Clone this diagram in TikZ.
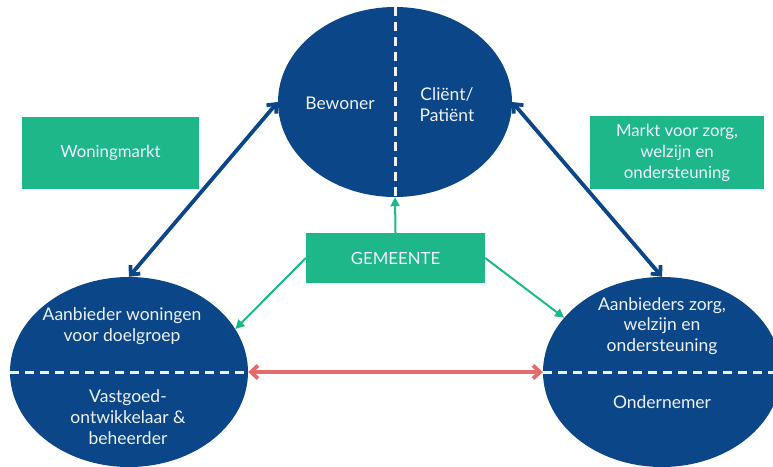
\documentclass[tikz,border=0pt]{standalone}
\usepackage{fontspec}
\setmainfont{Lato}
\usetikzlibrary{shapes.geometric,arrows.meta}
\definecolor{dblue}{HTML}{0A4688}
\definecolor{mgreen}{HTML}{1DB789}
\definecolor{mred}{HTML}{E46A6C}
\definecolor{ltext}{HTML}{EEF2F5}
\begin{document}
\begin{tikzpicture}[x=1pt,y=-1pt,
  blob/.style={ellipse,fill=dblue,draw=none,inner sep=0pt,minimum width=238pt,minimum height=190pt},
  gbox/.style={rectangle,fill=mgreen,draw=none,inner sep=0pt,text=ltext,font=\fontsize{16.8}{21}\selectfont,align=center},
  lbl/.style={text=ltext,font=\fontsize{17.5}{20.8}\selectfont,align=center,inner sep=0pt},
  dline/.style={draw=ltext,line width=3pt,dash pattern=on 9pt off 6pt},
  barrow/.style={draw=dblue,line width=3.8pt,{Straight Barb[length=7pt,width=13pt]}-{Straight Barb[length=7pt,width=13pt]}},
  rarrow/.style={draw=mred,line width=3.8pt,{Straight Barb[length=7pt,width=13pt]}-{Straight Barb[length=7pt,width=13pt]}},
  garrow/.style={draw=mgreen,line width=2pt,-{Triangle[length=9pt,width=9pt]}}
]
\useasboundingbox (0,0) rectangle (773,466);
\begin{scope}
\clip (0,0) rectangle (773,466);
\node[blob,minimum width=234pt] (T) at (395,102) {};
\node[blob] (L) at (129,372) {};
\node[blob] (R) at (662,372) {};
\draw[dline] (T.north) -- (T.south);
\draw[dline] (L.west) -- (L.east);
\draw[dline] (R.west) -- (R.east);
\end{scope}
\node[lbl] (tb) at (340,103) {Bewoner};
\node[lbl] (tc) at (447,105) {Cliënt/\\Patiënt};
\node[lbl] (la) at (122,326) {Aanbieder woningen\\voor doelgroep};
\node[lbl] (lv) at (128,417) {Vastgoed-\\ontwikkelaar \&\\beheerder};
\node[lbl] (ra) at (662,326) {Aanbieders zorg,\\welzijn en\\ondersteuning};
\node[lbl] (ro) at (662,402) {Ondernemer};
\node[gbox,minimum width=177pt,minimum height=72pt] (W) at (110.5,153) {Woningmarkt};
\node[gbox,minimum width=174pt,minimum height=73pt] (M) at (677,152.5) {Markt voor zorg,\\welzijn en\\ondersteuning};
\node[gbox,minimum width=179pt,minimum height=50pt] (G) at (395.5,258) {GEMEENTE};
\draw[barrow] (L.north) -- (T.west);
\draw[barrow] (T.east) -- (R.north);
\draw[rarrow] (L.east) -- (R.west);
\draw[garrow] (G.north) -- (T.south);
\draw[garrow] (G.west) -- (L.22);
\draw[garrow] (G.east) -- (R.151);
\end{tikzpicture}
\end{document}
